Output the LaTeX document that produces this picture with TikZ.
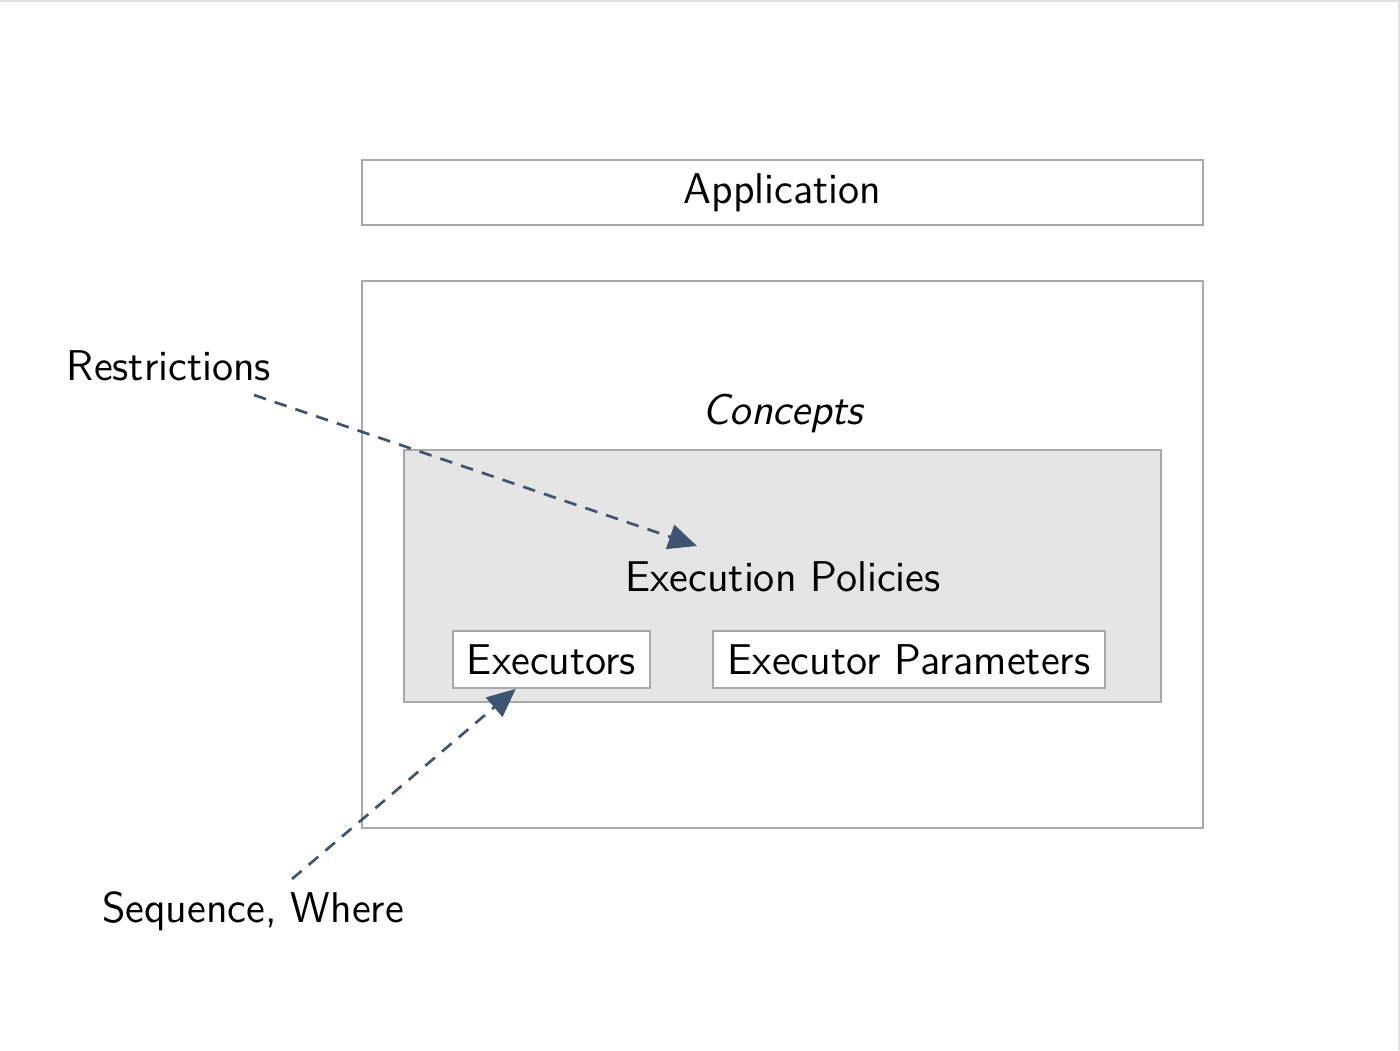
\documentclass[tikz,border=0pt]{standalone}
\usepackage{amsmath}
\usepackage{tikz}
\usetikzlibrary{arrows.meta,calc,positioning}
\definecolor{arrowblue}{HTML}{3E5572}
\definecolor{boxgray}{HTML}{A8A8A8}
\definecolor{fillgray}{HTML}{E5E5E5}
\tikzstyle{layer}=[draw=boxgray,line width=0.45pt,inner sep=0pt]
\tikzstyle{label}=[inner sep=0pt,font=\sffamily\fontsize{11.2}{13.6}\selectfont]
\tikzstyle{hint}=[->,>={Triangle[length=2.6mm,width=2.3mm]},arrowblue,line width=0.7pt,dash pattern=on 1.15mm off 0.85mm]

\begin{document}
\begin{tikzpicture}[x=0.09143mm,y=-0.09143mm]
  \useasboundingbox (0,0) rectangle (1400,1050);
  \draw[black!12,line width=0.3mm] (0,0) -- (1400,0) -- (1400,1050);

  \node[layer,minimum width=76.9mm,minimum height=5.94mm] (app)  at (782.5,192.5) {};
  \node[layer,minimum width=76.9mm,minimum height=50.0mm] (conc) at (782.5,554.5) {};
  \node[layer,fill=fillgray,minimum width=69.2mm,minimum height=23.04mm] (pol) at (782.5,576) {};
  \node[layer,fill=white,minimum width=18.0mm,minimum height=5.21mm] (exe) at (551.5,659.5) {};
  \node[layer,fill=white,minimum width=35.84mm,minimum height=5.21mm] (par) at (909,659.5) {};

  \node[label] (n1) at (app) {Application};
  \node[label,font=\sffamily\itshape\fontsize{11.2}{13.6}\selectfont] (n2) at (783,413) {Concepts};
  \node[label] (n3) at (783,577) {Execution Policies};
  \node[label] (n4) at (exe) {Executors};
  \node[label] (n5) at (par) {Executor Parameters};
  \node[label] (n6) at (169,366) {Restrictions};
  \node[label] (n7) at (253,911) {Sequence, Where};

  \coordinate (c1) at (254,395);
  \coordinate (c2) at (697,546);
  \coordinate (c3) at (292,879);
  \coordinate (c4) at ($(exe.south west)!0.32!(exe.south east)$);

  \foreach \from/\to in {c1/c2,c3/c4}
      \draw[hint] (\from) -- (\to);
\end{tikzpicture}
\end{document}
